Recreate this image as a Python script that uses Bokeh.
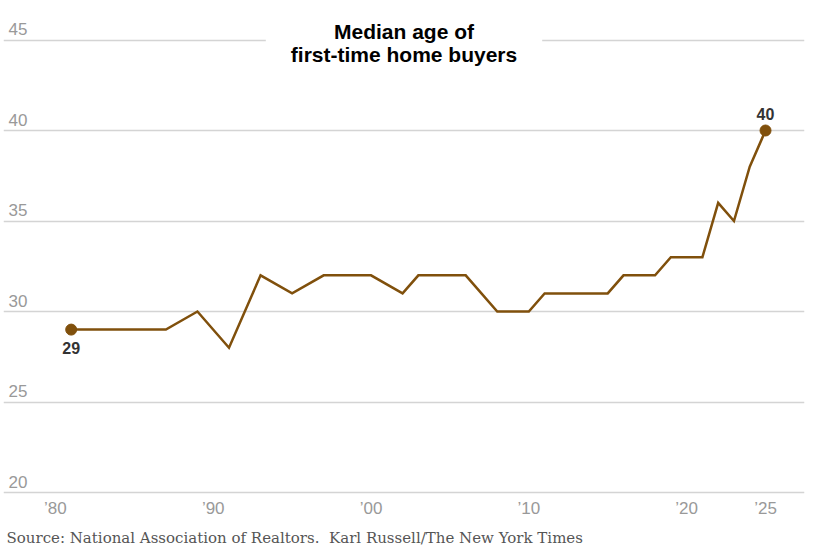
from bokeh.plotting import figure
from bokeh.models import FixedTicker, Label, Title, ColumnDataSource, Range1d
from bokeh.core.properties import value
from bokeh.embed import file_html
from bokeh.resources import INLINE

# ---- data ----
years = [1981, 1987, 1989, 1991, 1993, 1995, 1997, 2000, 2002, 2003, 2006, 2008,
         2010, 2011, 2015, 2016, 2018, 2019, 2021, 2022, 2023, 2024, 2025]
ages = [29, 29, 30, 28, 32, 31, 32, 32, 31, 32, 32, 30,
        30, 31, 31, 32, 32, 33, 33, 36, 35, 38, 40]
x_ticks = [1980, 1990, 2000, 2010, 2020, 2025]
x_labels = ["\u201980", "\u201990", "\u201900", "\u201910", "\u201920", "\u201925"]
y_ticks = [20, 25, 30, 35, 40, 45]
title_text = "Median age of\nfirst-time home buyers"
source_text = "Source: National Association of Realtors.\u00a0 Karl Russell/The New York Times"

BROWN = "#80500c"
X0, X1 = 1976.71, 2027.47
Y0, Y1 = 19.89, 46.63

p = figure(width=814, height=554, output_backend="svg", toolbar_location=None,
           x_range=Range1d(X0, X1), y_range=Range1d(Y0, Y1),
           min_border_left=3, min_border_right=10, min_border_top=10,
           min_border_bottom=60)
p.outline_line_color = None
p.background_fill_color = "white"
p.border_fill_color = "white"

# grid
p.xgrid.grid_line_color = None
p.ygrid.ticker = FixedTicker(ticks=y_ticks)
p.ygrid.grid_line_color = "#d4d4d4"
p.ygrid.grid_line_width = 1.5
p.yaxis.visible = False

# x axis
xa = p.xaxis[0]
xa.ticker = FixedTicker(ticks=x_ticks)
xa.major_label_overrides = {t: l for t, l in zip(x_ticks, x_labels)}
xa.axis_line_color = None
xa.major_tick_line_color = None
xa.minor_tick_line_color = None
xa.major_label_text_font = "Liberation Sans"
xa.major_label_text_font_size = "17px"
xa.major_label_text_color = "#999999"
xa.major_label_standoff = -2

# y tick labels inside the plot
ysrc = ColumnDataSource(dict(x=[X0] * len(y_ticks), y=y_ticks, t=[str(v) for v in y_ticks]))
p.text(x="x", y="y", text="t", source=ysrc, x_offset=5, y_offset=-5,
       text_baseline="bottom", text_align="left", text_font=value("Liberation Sans"),
       text_font_size="17px", text_color="#999999")

# line
p.line(years, ages, line_color=BROWN, line_width=2.5, line_join="miter")
ends_x = [years[0], years[-1]]
ends_y = [ages[0], ages[-1]]
p.scatter(ends_x, ends_y, size=11, fill_color=BROWN, line_color=BROWN)
p.text(x=[years[0]], y=[ages[0]], text=[str(ages[0])], y_offset=18, text_align="center",
       text_baseline="middle", text_font=value("Liberation Sans"), text_font_style="bold",
       text_font_size="16px", text_color="#333333")
p.text(x=[years[-1]], y=[ages[-1]], text=[str(ages[-1])], y_offset=-17, text_align="center",
       text_baseline="middle", text_font=value("Liberation Sans"), text_font_style="bold",
       text_font_size="16px", text_color="#333333")

# title box
p.add_layout(Label(x=(X0 + X1) / 2, y=46.3, text=title_text, text_align="center",
                   text_baseline="top", text_font="Liberation Sans", text_font_style="bold",
                   text_font_size="21px", text_color="#000000", text_line_height=1.0,
                   background_fill_color="white", padding=(25, 4)))

# source line
p.add_layout(Title(text=source_text, align="left", text_font="DejaVu Serif",
                   text_font_size="15px", text_font_style="normal", text_color="#555555",
                   offset=3, standoff=13), "below")

open("out.html", "w").write(file_html(p, INLINE))
